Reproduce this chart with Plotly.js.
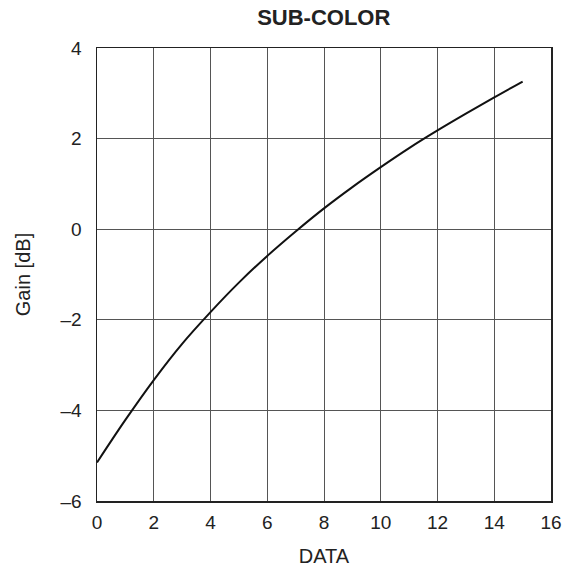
<!DOCTYPE html>
<html>
<head>
<meta charset="utf-8">
<script src="https://cdn.plot.ly/plotly-3.0.1.min.js"></script>
<style>html,body{margin:0;padding:0;background:#fff;}#chart{width:566px;height:572px;}</style>
</head>
<body>
<div id="chart"></div>
<script>
const dataX = [0, 1, 2, 3, 4, 5, 6, 7, 8, 9, 10, 11, 12, 13, 14, 15];
const gainDb = [-5.15, -4.21, -3.33, -2.53, -1.83, -1.18, -0.59, -0.05, 0.46, 0.93, 1.37, 1.79, 2.18, 2.55, 2.91, 3.26];
const xTicks = [0, 2, 4, 6, 8, 10, 12, 14, 16];
const yTicks = [-6, -4, -2, 0, 2, 4];

const font = {family: 'Liberation Sans, Arial, sans-serif', color: '#222', size: 19};

Plotly.newPlot('chart', [{
  x: dataX, y: gainDb, type: 'scatter', mode: 'lines',
  line: {color: '#111', width: 2, shape: 'spline', smoothing: 1},
  hoverinfo: 'skip'
}], {
  width: 566, height: 572,
  margin: {l: 97, r: 15, t: 48, b: 71},
  paper_bgcolor: '#fff', plot_bgcolor: '#fff',
  font: font,
  showlegend: false,
  title: {text: '<b>SUB-COLOR</b>', font: {family: font.family, size: 22, color: '#222'},
          x: 0.572, xanchor: 'center', y: 0.970, yanchor: 'middle', xref: 'container', yref: 'container'},
  xaxis: {
    range: [0, 16], tickvals: xTicks, ticktext: xTicks.map(String),
    showgrid: true, gridcolor: '#555', gridwidth: 1,
    showline: true, linecolor: '#222', linewidth: 1.5, mirror: true,
    zeroline: false, ticks: '', ticklen: 0, ticklabelstandoff: 4,
    title: {text: 'DATA', font: {size: 20}, standoff: 16},
    tickfont: {size: 19}
  },
  yaxis: {
    range: [-6, 4], tickvals: yTicks, ticktext: yTicks.map(v => v < 0 ? '\u2013' + Math.abs(v) : String(v)),
    showgrid: true, gridcolor: '#555', gridwidth: 1,
    showline: true, linecolor: '#222', linewidth: 1.5, mirror: true,
    zeroline: false, ticks: '', ticklen: 0, ticklabelstandoff: 10,
    title: {text: 'Gain [dB]', font: {size: 20}, standoff: 24},
    tickfont: {size: 19}
  }
}, {staticPlot: true});
</script>
</body>
</html>
